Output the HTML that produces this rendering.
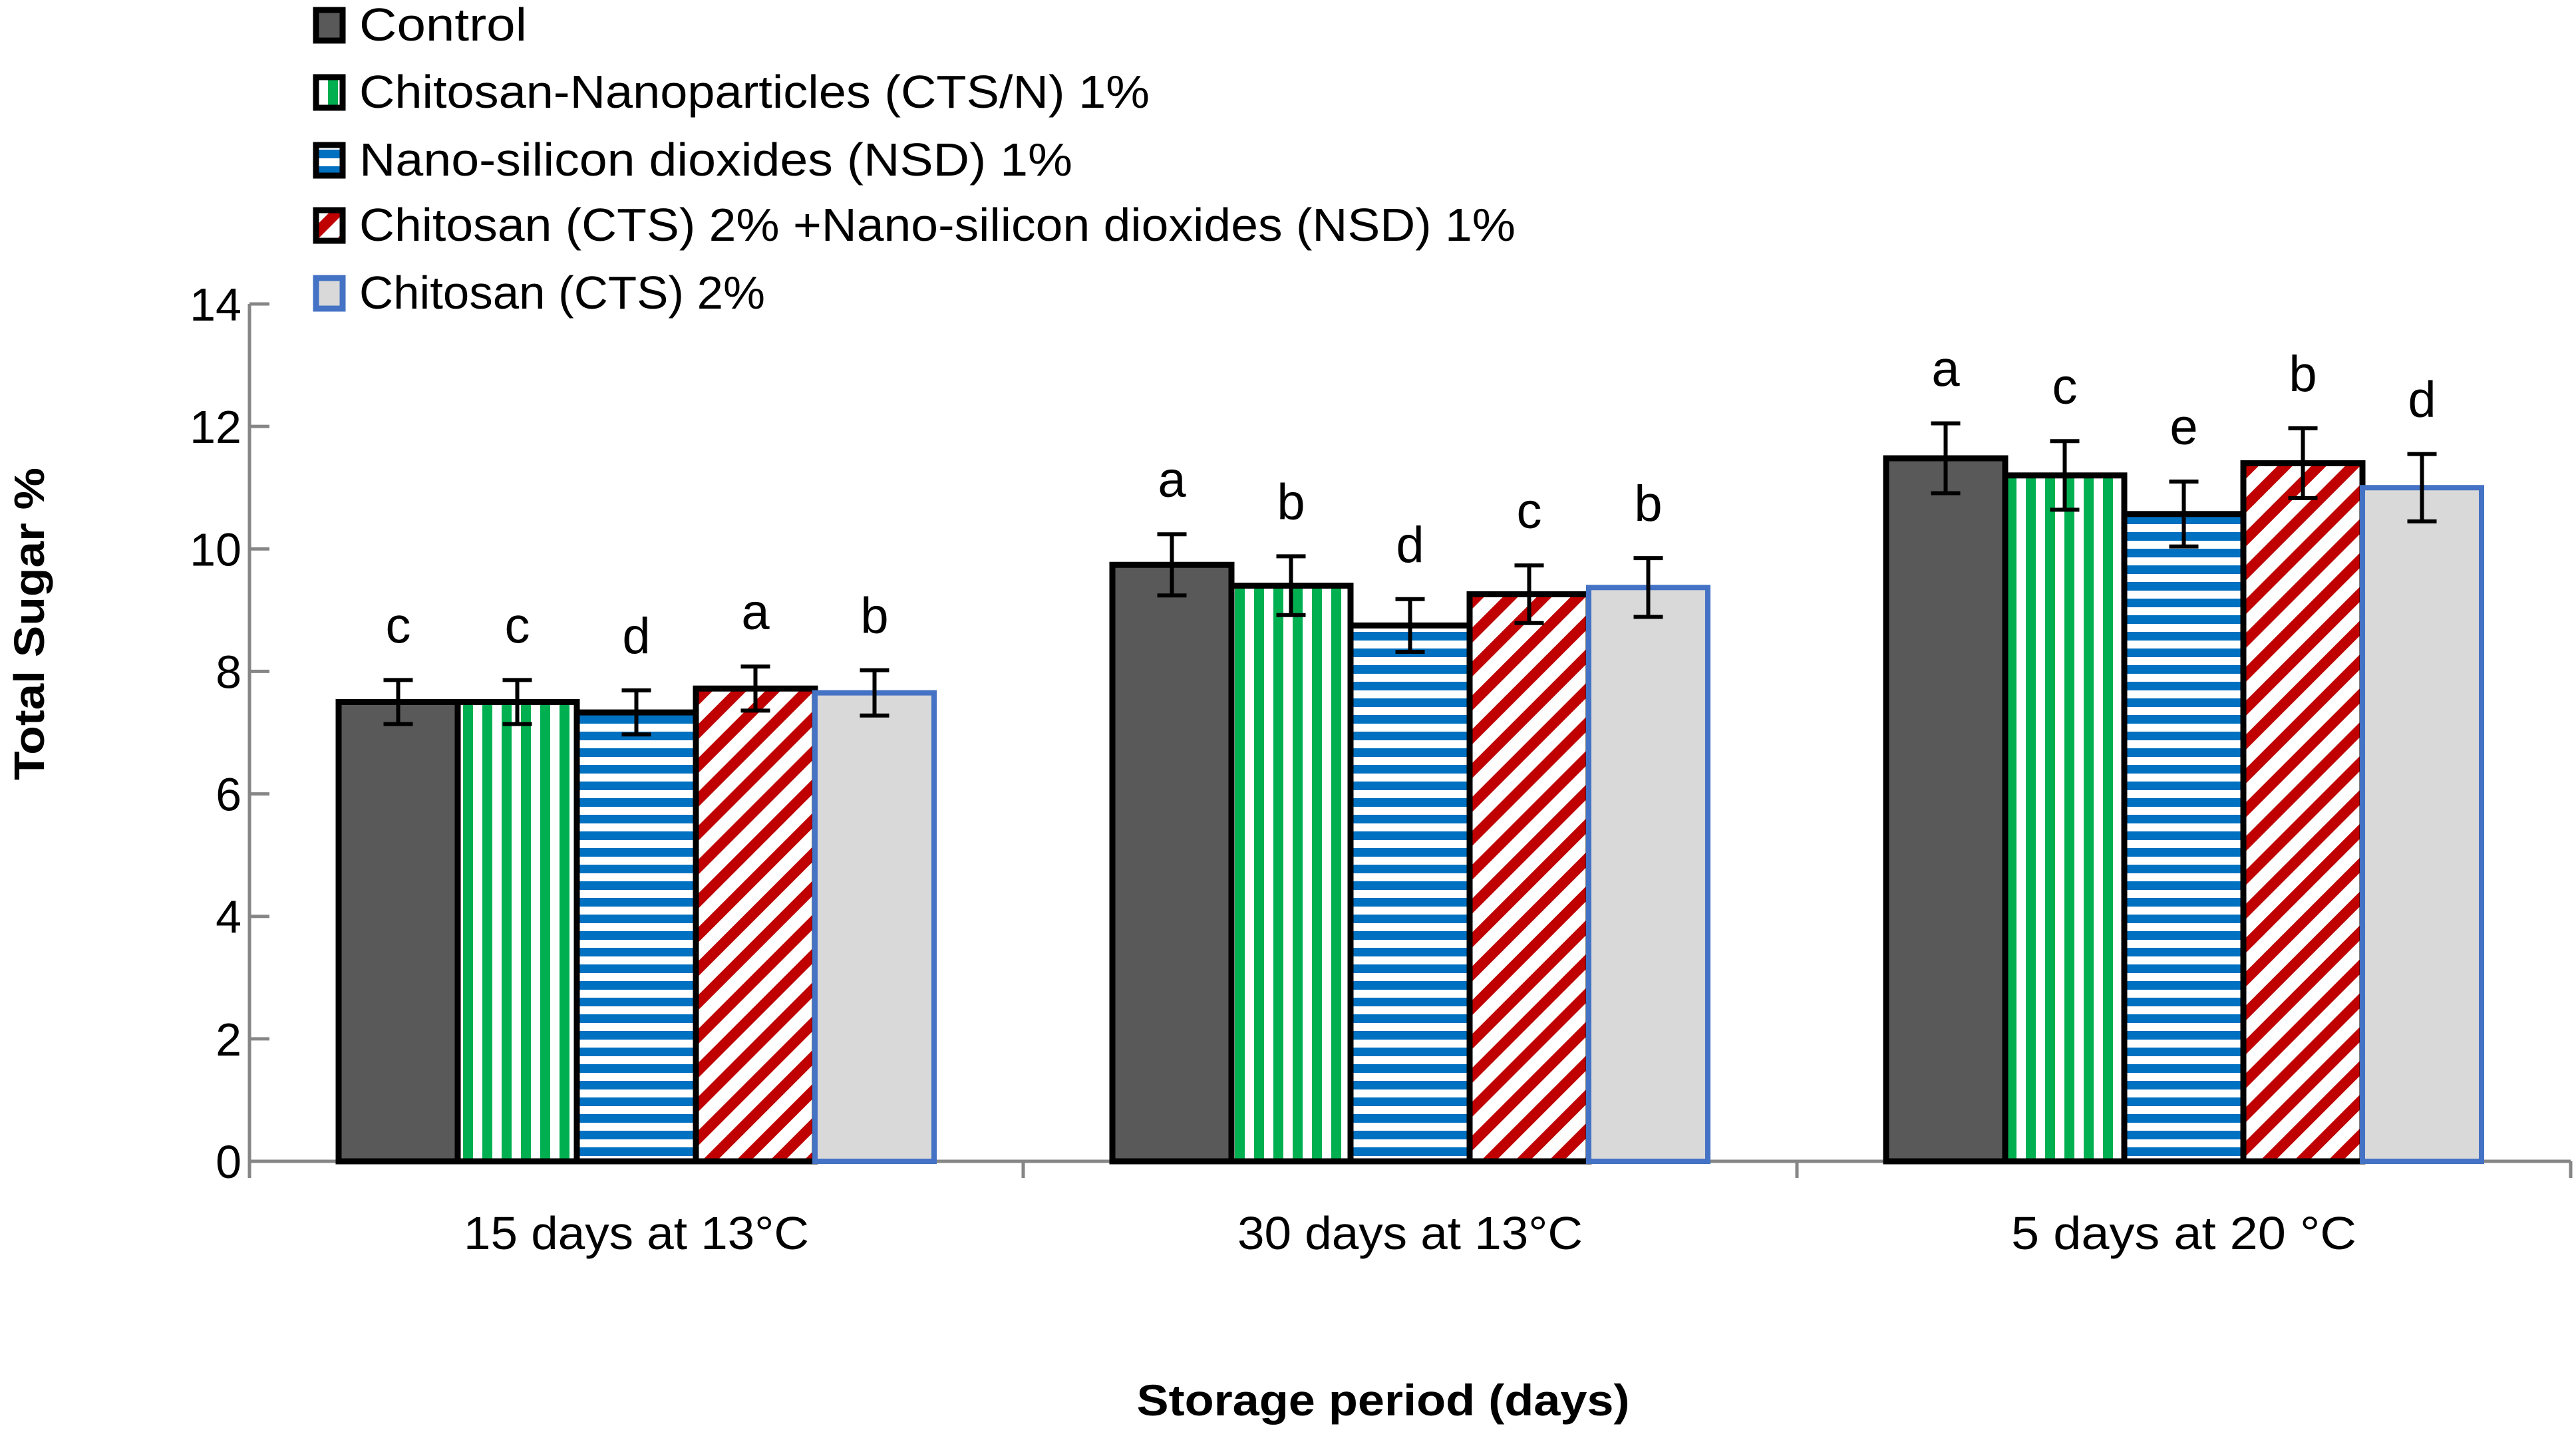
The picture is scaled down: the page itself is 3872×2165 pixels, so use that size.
<!DOCTYPE html>
<html><head><meta charset="utf-8"><style>
html,body{margin:0;padding:0;background:#fff;}
svg{display:block;font-family:"Liberation Sans",sans-serif;}
</style></head><body>
<svg id="chart" width="3872" height="2165" viewBox="0 0 3872 2165" xmlns="http://www.w3.org/2000/svg">
<defs>
<pattern id="pGreen" patternUnits="userSpaceOnUse" width="29" height="29"><rect width="29" height="29" fill="#fff"/><rect x="0" y="0" width="15" height="29" fill="#00B050"/></pattern>
<pattern id="pBlue" patternUnits="userSpaceOnUse" width="25" height="25"><rect width="25" height="25" fill="#fff"/><rect x="0" y="0" width="25" height="13" fill="#0070C0"/></pattern>
<pattern id="pRed" patternUnits="userSpaceOnUse" width="36" height="36" patternTransform="rotate(45)"><rect width="36" height="36" fill="#fff"/><rect x="0" y="0" width="16" height="36" fill="#C00000"/></pattern>
</defs>
<g id="axes"></g>
<g id="bars"></g>
<g id="legend"></g>
</svg>
<script>
const categories = ["15 days at 13°C", "30 days at 13°C", "5 days at 20 °C"];
const seriesNames = ["Control", "Chitosan-Nanoparticles (CTS/N) 1%", "Nano-silicon dioxides  (NSD) 1%", "Chitosan (CTS) 2% +Nano-silicon dioxides  (NSD) 1%", "Chitosan (CTS) 2%"];
const control = [7.5, 9.74, 11.48];
const ctsN = [7.5, 9.4, 11.2];
const nsd = [7.33, 8.75, 10.57];
const ctsNsd = [7.72, 9.26, 11.4];
const cts = [7.65, 9.37, 11.0];
const controlErr = [0.36, 0.5, 0.57];
const ctsNErr = [0.36, 0.48, 0.56];
const nsdErr = [0.36, 0.43, 0.53];
const ctsNsdErr = [0.36, 0.47, 0.57];
const ctsErr = [0.37, 0.48, 0.55];
const controlLetters = ["c", "a", "a"];
const ctsNLetters = ["c", "b", "c"];
const nsdLetters = ["d", "d", "e"];
const ctsNsdLetters = ["a", "c", "b"];
const ctsLetters = ["b", "b", "d"];
const yTicks = [0, 2, 4, 6, 8, 10, 12, 14];

const NS = "http://www.w3.org/2000/svg";
const X0 = 375, X1 = 3864, Y0 = 1746, Y14 = 457;
const yMax = 14;
function yScale(v){ return Y0 - (v / yMax) * (Y0 - Y14); }
const groupW = (X1 - X0) / categories.length;
const barW = 179;
function barX(ci, si){ return X0 + ci * groupW + (groupW - barW * 5) / 2 + si * barW; }
function el(tag, attrs, parent){ const e = document.createElementNS(NS, tag); for (const k in attrs) e.setAttribute(k, attrs[k]); parent.appendChild(e); return e; }

const axes = document.getElementById('axes');
const barsG = document.getElementById('bars');
const legendG = document.getElementById('legend');

let yl = el('line', {x1: X0, y1: Y14, x2: X0, y2: Y0, stroke: '#868686', 'stroke-width': 5}, axes);


yTicks.forEach(t => {
  const y = yScale(t);
  const tk = el('line', {x1: X0, y1: y, x2: X0 + 30, y2: y, stroke: '#868686', 'stroke-width': 5}, axes);
  
  
  const tl = el('text', {x: 363, y: y + 25, 'text-anchor': 'end', 'font-size': 70, fill: '#000'}, axes);
  tl.textContent = t;
  
  
});
let xl = el('line', {x1: X0, y1: Y0, x2: X1, y2: Y0, stroke: '#868686', 'stroke-width': 5}, axes);


for (let i = 0; i <= categories.length; i++) {
  const x = X0 + i * groupW;
  const tk = el('line', {x1: x, y1: Y0, x2: x, y2: Y0 + 25, stroke: '#868686', 'stroke-width': 5}, axes);
  
  
}
categories.forEach((c, i) => {
  const t = el('text', {x: X0 + (i + 0.5) * groupW, y: 1878, 'text-anchor': 'middle', 'font-size': 70, fill: '#000', textLength: 519, lengthAdjust: 'spacingAndGlyphs'}, axes);
  t.textContent = c;
  
  
});
let xt = el('text', {x: 2079, y: 2128, 'text-anchor': 'middle', 'font-size': 66, 'font-weight': 'bold', textLength: 741, lengthAdjust: 'spacingAndGlyphs'}, axes);
xt.textContent = 'Storage period (days)';


let yt = el('text', {x: 0, y: 0, 'text-anchor': 'middle', 'font-size': 64, 'font-weight': 'bold', textLength: 470, lengthAdjust: 'spacingAndGlyphs', transform: 'translate(66,938) rotate(-90)'}, axes);
yt.textContent = 'Total Sugar %';



const series = [
  {vals: control, err: controlErr, let: controlLetters, fill: '#595959', stroke: '#000', name: 'control'},
  {vals: ctsN, err: ctsNErr, let: ctsNLetters, fill: 'url(#pGreen)', stroke: '#000', name: 'cts-n'},
  {vals: nsd, err: nsdErr, let: nsdLetters, fill: 'url(#pBlue)', stroke: '#000', name: 'nsd'},
  {vals: ctsNsd, err: ctsNsdErr, let: ctsNsdLetters, fill: 'url(#pRed)', stroke: '#000', name: 'cts-nsd'},
  {vals: cts, err: ctsErr, let: ctsLetters, fill: '#D9D9D9', stroke: '#4472C4', name: 'cts'}
];
series.forEach((s, si) => {
  s.vals.forEach((v, ci) => {
    const x = barX(ci, si), y = yScale(v);
    const r = el('rect', {x: x, y: y, width: barW, height: Y0 - y, fill: s.fill, stroke: s.stroke, 'stroke-width': si === 4 ? 8 : 9}, barsG);
    
    
  });
});
series.forEach((s, si) => {
  s.vals.forEach((v, ci) => {
    const cx = barX(ci, si) + barW / 2;
    const yt2 = yScale(v + s.err[ci]), yb = yScale(v - s.err[ci]);
    const g = el('g', {stroke: '#000', 'stroke-width': 6}, barsG);
    
    
    el('line', {x1: cx, y1: yt2, x2: cx, y2: yb}, g);
    el('line', {x1: cx - 22, y1: yt2, x2: cx + 22, y2: yt2}, g);
    el('line', {x1: cx - 22, y1: yb, x2: cx + 22, y2: yb}, g);
    const lt = el('text', {x: cx, y: yt2 - 56, 'text-anchor': 'middle', 'font-size': 76, fill: '#000'}, barsG);
    lt.textContent = s.let[ci];
    
    
  });
});

const legY = [37, 138, 240, 338, 440];
const legLen = [252, 1188, 1072, 1738, 610];
series.forEach((s, i) => {
  const g = el('g', {}, legendG);
  
  
  el('rect', {x: 475, y: legY[i] - 22, width: 40, height: 46, fill: s.fill, stroke: s.stroke, 'stroke-width': 9}, g);
  const t = el('text', {x: 540, y: legY[i] + 24, 'font-size': 70, fill: '#000', textLength: legLen[i], lengthAdjust: 'spacingAndGlyphs'}, g);
  t.textContent = seriesNames[i];
});
</script>
</body></html>
